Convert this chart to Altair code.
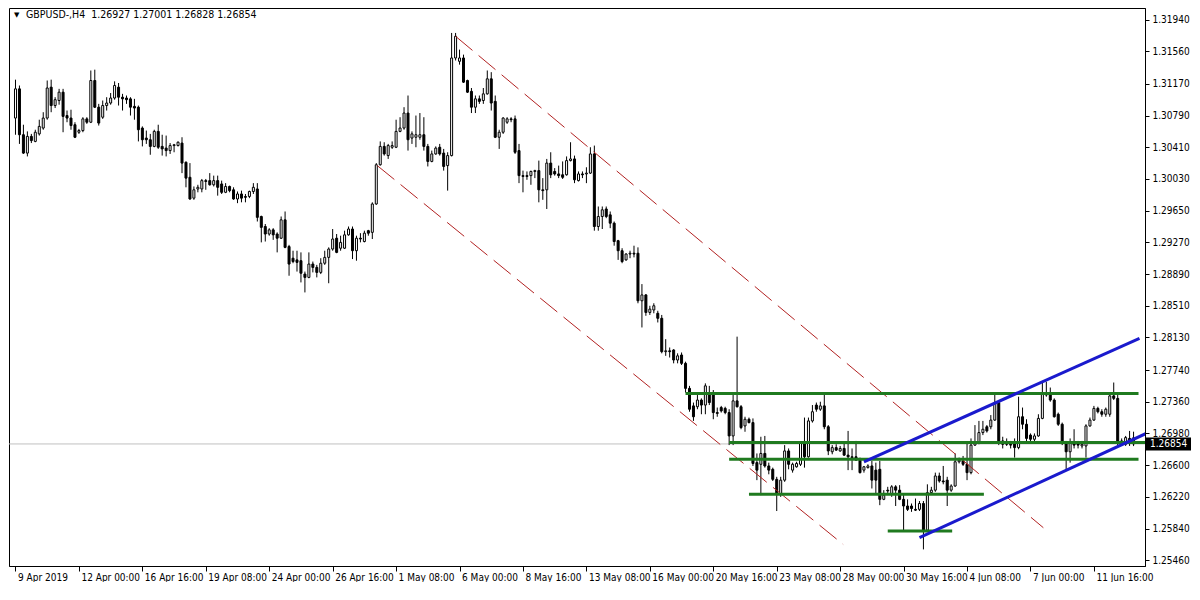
import json
import altair as alt
import pandas as pd

# ---------------- data ----------------
opens = [1.3076,1.3111,1.3056,1.3034,1.3054,1.3048,1.3057,1.3064,1.3076,1.3113,1.3091,1.3097,1.3107,1.3079,1.3076,1.3068,1.3059,1.3061,1.3075,1.3071,
1.3121,1.3089,1.3077,1.3091,1.3094,1.3100,1.3113,1.3101,1.3100,1.3099,1.3090,1.3089,1.3064,1.3052,1.3050,1.3042,1.3060,1.3042,1.3040,1.3037,
1.3043,1.3043,1.3046,1.3023,1.3005,1.2980,1.2991,1.2991,1.3001,1.3001,1.2996,1.3001,1.2997,1.2987,1.2994,1.2990,1.2979,1.2985,1.2982,1.2982,
1.2988,1.2991,1.2958,1.2946,1.2937,1.2942,1.2937,1.2932,1.2954,1.2922,1.2908,1.2906,1.2905,1.2889,1.2885,1.2901,1.2897,1.2891,1.2902,1.2909,
1.2919,1.2932,1.2920,1.2920,1.2936,1.2943,1.2917,1.2932,1.2928,1.2941,1.2939,1.2973,1.3020,1.3042,1.3031,1.3041,1.3041,1.3060,1.3064,1.3082,
1.3052,1.3053,1.3053,1.3056,1.3042,1.3024,1.3033,1.3041,1.3034,1.3019,1.3031,1.3148,1.3144,1.3148,1.3121,1.3108,1.3089,1.3099,1.3097,1.3105,
1.3123,1.3096,1.3053,1.3059,1.3071,1.3075,1.3075,1.3037,1.3007,1.3007,1.3007,1.3012,1.3013,1.2990,1.2990,1.3022,1.3012,1.3009,1.3008,1.3008,
1.3025,1.3027,1.3001,1.3009,1.3009,1.3010,1.3033,1.2946,1.2958,1.2967,1.2960,1.2950,1.2929,1.2917,1.2906,1.2913,1.2914,1.2914,1.2857,1.2864,
1.2843,1.2846,1.2842,1.2836,1.2796,1.2797,1.2798,1.2786,1.2792,1.2782,1.2752,1.2731,1.2730,1.2738,1.2732,1.2745,1.2745,1.2723,1.2729,1.2728,
1.2723,1.2695,1.2737,1.2730,1.2707,1.2715,1.2711,1.2663,1.2661,1.2674,1.2659,1.2655,1.2643,1.2626,1.2642,1.2677,1.2654,1.2658,1.2661,1.2686,
1.2670,1.2713,1.2732,1.2727,1.2731,1.2706,1.2676,1.2681,1.2677,1.2680,1.2672,1.2670,1.2670,1.2666,1.2654,1.2657,1.2659,1.2654,1.2655,1.2619,
1.2630,1.2626,1.2634,1.2630,1.2619,1.2611,1.2611,1.2607,1.2607,1.2614,1.2582,1.2627,1.2630,1.2647,1.2641,1.2642,1.2630,1.2635,1.2664,1.2665,
1.2661,1.2651,1.2684,1.2686,1.2699,1.2706,1.2706,1.2714,1.2735,1.2689,1.2688,1.2685,1.2686,1.2681,1.2718,1.2709,1.2696,1.2691,1.2695,1.2716,
1.2744,1.2746,1.2738,1.2721,1.2709,1.2686,1.2676,1.2688,1.2686,1.2683,1.2683,1.2707,1.2714,1.2728,1.2724,1.2721,1.2721,1.2743,1.2740,1.2689,
1.2685,1.2692,1.26927]

highs = [1.3122,1.3115,1.3068,1.3060,1.3057,1.3062,1.3074,1.3083,1.3121,1.3122,1.3101,1.3111,1.3111,1.3085,1.3086,1.3071,1.3063,1.3077,1.3077,1.3133,
1.3134,1.3093,1.3097,1.3101,1.3106,1.3120,1.3118,1.3105,1.3103,1.3101,1.3099,1.3091,1.3066,1.3061,1.3057,1.3062,1.3068,1.3056,1.3055,1.3046,
1.3045,1.3048,1.3053,1.3024,1.3022,1.2994,1.2996,1.3003,1.3003,1.3010,1.3007,1.3007,1.3001,1.2998,1.2995,1.2993,1.2988,1.2989,1.2985,1.2989,
1.2998,1.2998,1.2959,1.2949,1.2944,1.2944,1.2939,1.2958,1.2964,1.2924,1.2917,1.2917,1.2915,1.2892,1.2915,1.2904,1.2900,1.2908,1.2917,1.2921,
1.2943,1.2937,1.2935,1.2941,1.2946,1.2946,1.2935,1.2938,1.2941,1.2942,1.2975,1.3022,1.3048,1.3047,1.3045,1.3048,1.3074,1.3077,1.3089,1.3103,
1.3060,1.3079,1.3082,1.3077,1.3045,1.3037,1.3042,1.3045,1.3039,1.3035,1.3178,1.3178,1.3158,1.3152,1.3122,1.3112,1.3103,1.3103,1.3112,1.3133,
1.3131,1.3103,1.3062,1.3077,1.3077,1.3077,1.3079,1.3045,1.3013,1.3012,1.3013,1.3014,1.3025,1.3004,1.3027,1.3035,1.3016,1.3019,1.3024,1.3030,
1.3047,1.3031,1.3012,1.3012,1.3017,1.3041,1.3043,1.2970,1.2970,1.2970,1.2964,1.2952,1.2930,1.2920,1.2914,1.2917,1.2923,1.2921,1.2877,1.2865,
1.2851,1.2854,1.2845,1.2840,1.2811,1.2801,1.2799,1.2794,1.2795,1.2784,1.2755,1.2735,1.2744,1.2740,1.2758,1.2755,1.2750,1.2729,1.2731,1.2730,
1.2727,1.2745,1.2814,1.2732,1.2718,1.2717,1.2716,1.2674,1.2694,1.2695,1.2663,1.2657,1.2646,1.2646,1.2684,1.2680,1.2663,1.2664,1.2688,1.2717,
1.2717,1.2732,1.2735,1.2736,1.2747,1.2708,1.2684,1.2685,1.2683,1.2686,1.2701,1.2680,1.2689,1.2669,1.2659,1.2661,1.2665,1.2663,1.2665,1.2630,
1.2634,1.2636,1.2636,1.2636,1.2625,1.2619,1.2614,1.2620,1.2617,1.2617,1.2637,1.2634,1.2651,1.2651,1.2659,1.2646,1.2637,1.2674,1.2669,1.2671,
1.2686,1.2692,1.2708,1.2713,1.2713,1.2708,1.2720,1.2747,1.2738,1.2694,1.2692,1.2689,1.2692,1.2742,1.2729,1.2715,1.2698,1.2698,1.2721,1.2761,
1.2760,1.2753,1.2740,1.2723,1.2711,1.2689,1.2692,1.2703,1.2689,1.2689,1.2709,1.2717,1.2731,1.2730,1.2727,1.2729,1.2746,1.2759,1.2744,1.2692,
1.2695,1.2701,1.27001]

lows = [1.3056,1.3045,1.3033,1.3030,1.3046,1.3047,1.3055,1.3062,1.3074,1.3083,1.3088,1.3092,1.3059,1.3071,1.3062,1.3052,1.3057,1.3059,1.3069,1.3070,
1.3088,1.3067,1.3075,1.3085,1.3092,1.3098,1.3091,1.3085,1.3093,1.3079,1.3074,1.3048,1.3042,1.3045,1.3032,1.3041,1.3039,1.3031,1.3030,1.3033,
1.3035,1.3042,1.3010,1.2993,1.2978,1.2978,1.2987,1.2987,1.2990,1.2995,1.2994,1.2983,1.2985,1.2986,1.2987,1.2978,1.2974,1.2975,1.2975,1.2980,
1.2985,1.2952,1.2927,1.2928,1.2935,1.2930,1.2915,1.2931,1.2920,1.2887,1.2902,1.2892,1.2879,1.2867,1.2884,1.2891,1.2885,1.2889,1.2900,1.2878,
1.2917,1.2914,1.2917,1.2919,1.2935,1.2907,1.2905,1.2927,1.2927,1.2935,1.2931,1.2972,1.3019,1.3031,1.3027,1.3039,1.3040,1.3059,1.3062,1.3037,
1.3045,1.3041,1.3050,1.3037,1.3018,1.3023,1.3032,1.3031,1.3013,1.2989,1.3030,1.3145,1.3140,1.3118,1.3106,1.3082,1.3082,1.3093,1.3093,1.3104,
1.3085,1.3052,1.3039,1.3057,1.3069,1.3071,1.3033,1.2998,1.2987,1.3002,1.2996,1.3004,1.2975,1.2978,1.2967,1.3004,1.3007,1.3004,1.3003,1.3007,
1.3024,1.2998,1.3000,1.3004,1.2998,1.3009,1.2941,1.2941,1.2943,1.2956,1.2944,1.2923,1.2906,1.2902,1.2905,1.2908,1.2909,1.2854,1.2825,1.2839,
1.2840,1.2842,1.2831,1.2794,1.2791,1.2789,1.2782,1.2782,1.2780,1.2747,1.2724,1.2713,1.2727,1.2721,1.2721,1.2732,1.2715,1.2718,1.2723,1.2721,
1.2684,1.2684,1.2729,1.2703,1.2700,1.2710,1.2659,1.2642,1.2624,1.2657,1.2649,1.2641,1.2605,1.2622,1.2640,1.2655,1.2651,1.2657,1.2659,1.2657,
1.2669,1.2711,1.2724,1.2725,1.2703,1.2672,1.2673,1.2677,1.2676,1.2671,1.2654,1.2654,1.2665,1.2650,1.2651,1.2656,1.2632,1.2626,1.2612,1.2618,
1.2626,1.2622,1.2611,1.2618,1.2582,1.2605,1.2604,1.2605,1.2605,1.2559,1.2580,1.2625,1.2628,1.2639,1.2637,1.2611,1.2628,1.2634,1.2662,1.2659,
1.2642,1.2649,1.2683,1.2685,1.2696,1.2699,1.2703,1.2713,1.2684,1.2680,1.2683,1.2680,1.2669,1.2679,1.2703,1.2686,1.2686,1.2688,1.2694,1.2715,
1.2742,1.2736,1.2717,1.2707,1.2684,1.2654,1.2663,1.2680,1.2680,1.2680,1.2669,1.2706,1.2713,1.2722,1.2718,1.2718,1.2718,1.2738,1.2684,1.2683,
1.2683,1.2683,1.26828]

closes = [1.3111,1.3056,1.3034,1.3054,1.3049,1.3059,1.3066,1.3076,1.3112,1.3091,1.3098,1.3107,1.3078,1.3076,1.3067,1.3053,1.3061,1.3075,1.3071,1.3121,
1.3089,1.3070,1.3091,1.3094,1.3100,1.3115,1.3101,1.3099,1.3098,1.3089,1.3088,1.3062,1.3050,1.3050,1.3042,1.3060,1.3041,1.3039,1.3037,1.3043,
1.3044,1.3047,1.3022,1.3004,1.2979,1.2990,1.2993,1.3001,1.3000,1.2996,1.3001,1.2993,1.2987,1.2994,1.2989,1.2979,1.2985,1.2980,1.2981,1.2988,
1.2993,1.2957,1.2945,1.2937,1.2942,1.2936,1.2932,1.2954,1.2921,1.2901,1.2904,1.2903,1.2890,1.2885,1.2901,1.2897,1.2891,1.2902,1.2909,1.2919,
1.2931,1.2915,1.2927,1.2936,1.2943,1.2917,1.2932,1.2931,1.2938,1.2938,1.2973,1.3020,1.3042,1.3033,1.3043,1.3043,1.3060,1.3064,1.3082,1.3050,
1.3057,1.3056,1.3056,1.3042,1.3024,1.3033,1.3040,1.3033,1.3018,1.3031,1.3148,1.3174,1.3148,1.3119,1.3107,1.3089,1.3099,1.3096,1.3105,1.3123,
1.3094,1.3053,1.3059,1.3076,1.3075,1.3074,1.3035,1.3007,1.3006,1.3006,1.3012,1.3013,1.2990,1.2989,1.3022,1.3008,1.3009,1.3007,1.3005,1.3025,
1.3027,1.3002,1.3009,1.3008,1.3010,1.3033,1.2946,1.2958,1.2966,1.2958,1.2950,1.2928,1.2917,1.2904,1.2913,1.2914,1.2913,1.2857,1.2864,1.2843,
1.2847,1.2851,1.2836,1.2796,1.2797,1.2796,1.2786,1.2791,1.2782,1.2752,1.2727,1.2718,1.2738,1.2732,1.2755,1.2735,1.2723,1.2722,1.2725,1.2723,
1.2695,1.2737,1.2730,1.2705,1.2715,1.2711,1.2662,1.2654,1.2674,1.2659,1.2654,1.2643,1.2626,1.2642,1.2677,1.2661,1.2661,1.2662,1.2686,1.2670,
1.2713,1.2724,1.2727,1.2731,1.2706,1.2677,1.2681,1.2678,1.2680,1.2672,1.2670,1.2669,1.2666,1.2651,1.2658,1.2659,1.2642,1.2642,1.2619,1.2624,
1.2629,1.2634,1.2630,1.2619,1.2611,1.2607,1.2608,1.2606,1.2614,1.2582,1.2627,1.2630,1.2647,1.2641,1.2640,1.2630,1.2635,1.2664,1.2666,1.2661,
1.2651,1.2684,1.2686,1.2699,1.2703,1.2701,1.2714,1.2735,1.2689,1.2685,1.2685,1.2684,1.2681,1.2718,1.2709,1.2692,1.2691,1.2695,1.2716,1.2746,
1.2746,1.2738,1.2718,1.2709,1.2686,1.2676,1.2686,1.2684,1.2684,1.2685,1.2707,1.2714,1.2728,1.2724,1.2721,1.2727,1.2743,1.2740,1.2686,1.2685,
1.2693,1.2688,1.26854]

date_labels = ["9 Apr 2019", "12 Apr 00:00", "16 Apr 16:00", "19 Apr 08:00", "24 Apr 00:00",
               "26 Apr 16:00", "1 May 08:00", "6 May 00:00", "8 May 16:00", "13 May 08:00",
               "16 May 00:00", "20 May 16:00", "23 May 08:00", "28 May 00:00", "30 May 16:00",
               "4 Jun 08:00", "7 Jun 00:00", "11 Jun 16:00"]
date_label_bars = [0, 16, 32, 48, 64, 80, 96, 112, 128, 144, 160, 176, 192, 208, 224, 240, 256, 272]

price_ticks = [1.31940, 1.31560, 1.31170, 1.30790, 1.30410, 1.30030, 1.29650, 1.29270, 1.28890,
               1.28510, 1.28130, 1.27740, 1.27360, 1.26980, 1.26600, 1.26220, 1.25840, 1.25460]

symbol = "GBPUSD-,H4"
bid = 1.26854

# chart objects (bar index / price)
green_from = [169, 180, 180, 185, 220]
green_to = [283.25, 286, 283.25, 244.25, 236.25]
green_price = [1.2746, 1.2687, 1.2667, 1.2625, 1.2581]

blue_from = [214, 228]
blue_from_price = [1.2664, 1.2573]
blue_to = [283.5, 287.5]
blue_to_price = [1.2812, 1.2703]

red_from = [111, 91.25]
red_from_price = [1.3174, 1.3019]
red_to = [259.25, 208.75]
red_to_price = [1.2585, 1.2565]

# ---------------- chart ----------------
W, H = 1136, 558
FONT = "DejaVu Sans Condensed, Liberation Sans, sans-serif"

candles = pd.DataFrame({
    "bar": list(range(len(closes))),
    "open": opens, "high": highs, "low": lows, "close": closes,
})

xscale = alt.Scale(domain=[-0.375, 283.625], nice=False, zero=False)
yscale = alt.Scale(domain=[1.25391, 1.32079], nice=False, zero=False)

label_expr = json.dumps(date_labels) + "[round(datum.value / 16)]"

xaxis = alt.Axis(values=date_label_bars, labelExpr=label_expr, labelAlign="left",
                 labelOffset=2, tickSize=5, labelPadding=1, title=None,
                 labelFontSize=10, labelFont=FONT, labelColor="black",
                 tickColor="black", domainColor="black", grid=False, labelOverlap=False)
yaxis = alt.Axis(orient="right", values=price_ticks, format=".5f", tickSize=4,
                 labelPadding=3, title=None, labelFontSize=10, labelFont=FONT,
                 labelColor="black", tickColor="black", domainColor="black", grid=False,
                 labelOverlap=False)

bid_line = alt.Chart(pd.DataFrame({"p": [bid]})).mark_rule(color="#c0c0c0", strokeWidth=1).encode(
    y=alt.Y("p:Q", scale=yscale, axis=yaxis))

wicks = alt.Chart(candles).mark_rule(color="black", strokeWidth=1).encode(
    x=alt.X("bar:Q", scale=xscale, axis=xaxis),
    y=alt.Y("low:Q", scale=yscale, axis=yaxis),
    y2="high:Q")

bodies = alt.Chart(candles).mark_bar(size=2, stroke="black", strokeWidth=1, orient="vertical").encode(
    x=alt.X("bar:Q", scale=xscale, axis=xaxis),
    y=alt.Y("open:Q", scale=yscale, axis=yaxis),
    y2="close:Q",
    fill=alt.condition("datum.close >= datum.open", alt.value("white"), alt.value("black")))

red_df = pd.DataFrame({"x1": red_from, "y1": red_from_price, "x2": red_to, "y2": red_to_price})
red = alt.Chart(red_df).mark_rule(color="#b22222", strokeWidth=1, strokeDash=[22, 8], clip=True).encode(
    x=alt.X("x1:Q", scale=xscale, axis=xaxis), x2="x2:Q",
    y=alt.Y("y1:Q", scale=yscale, axis=yaxis), y2="y2:Q")

green_df = pd.DataFrame({"x1": green_from, "x2": green_to, "p": green_price})
green = alt.Chart(green_df).mark_rule(color="#1f7a1f", strokeWidth=3, clip=True).encode(
    x=alt.X("x1:Q", scale=xscale, axis=xaxis), x2="x2:Q",
    y=alt.Y("p:Q", scale=yscale, axis=yaxis))

blue_df = pd.DataFrame({"x1": blue_from, "y1": blue_from_price, "x2": blue_to, "y2": blue_to_price})
blue = alt.Chart(blue_df).mark_rule(color="#1a1acd", strokeWidth=3, clip=True).encode(
    x=alt.X("x1:Q", scale=xscale, axis=xaxis), x2="x2:Q",
    y=alt.Y("y1:Q", scale=yscale, axis=yaxis), y2="y2:Q")

last = len(closes) - 1
title_txt = "{}\u00a0 {:.5f} {:.5f} {:.5f} {:.5f}".format(symbol, opens[last], highs[last], lows[last], closes[last])
title_df = pd.DataFrame({"t": [title_txt]})
title = alt.Chart(title_df).mark_text(align="left", baseline="middle", font=FONT, fontSize=10.5,
                                      color="black").encode(
    x=alt.value(17), y=alt.value(7), text="t:N")
tri = alt.Chart(pd.DataFrame({"t": ["\u25bc"]})).mark_text(align="left", baseline="middle",
                                                          font="DejaVu Sans", fontSize=7, color="black").encode(
    x=alt.value(5), y=alt.value(7), text="t:N")

bid_df = pd.DataFrame({"p": [bid], "t": ["{:.5f}".format(bid)]})
bid_box = alt.Chart(bid_df).mark_rect(color="black", yOffset=-6.5, y2Offset=6.5).encode(
    x=alt.value(W + 1), x2=alt.value(W + 46),
    y=alt.Y("p:Q", scale=yscale, axis=yaxis), y2="p:Q")
bid_text = alt.Chart(bid_df).mark_text(align="left", baseline="middle", font=FONT, fontSize=10,
                                       color="white").encode(
    x=alt.value(W + 5), y=alt.Y("p:Q", scale=yscale, axis=yaxis), text="t:N")

chart = alt.layer(bid_line, wicks, bodies, red, green, blue, title, tri, bid_box, bid_text).properties(
    width=W, height=H, padding=0, background="white"
).configure_view(stroke="black", strokeWidth=1).configure_axis(labelOverlap=False)

chart.save("out.html", embed_options={"renderer": "svg", "actions": False})
